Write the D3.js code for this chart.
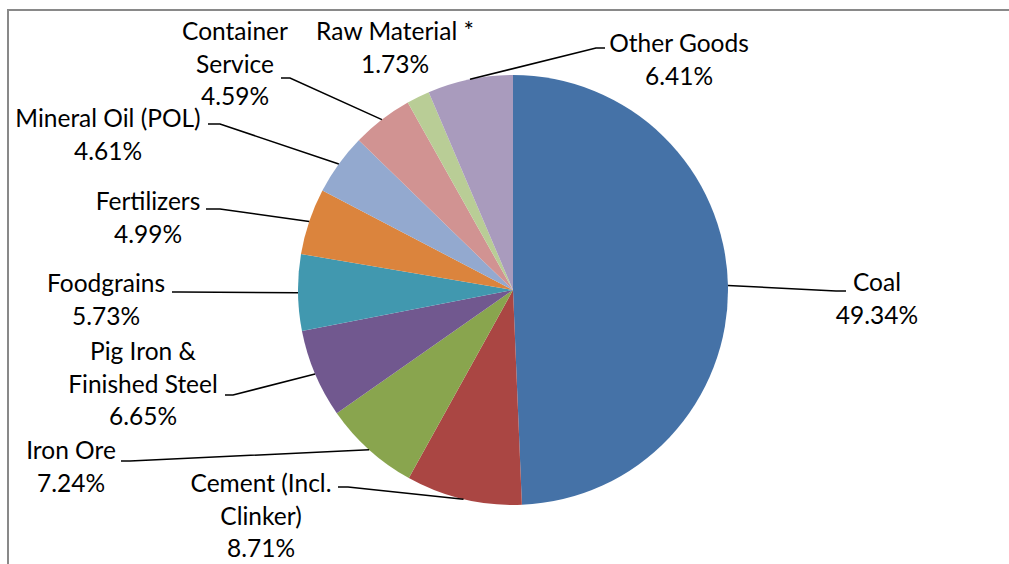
<!DOCTYPE html>
<html>
<head>
<meta charset="utf-8">
<script src="https://cdn.jsdelivr.net/npm/d3@7"></script>
<style>
  body { margin: 0; background: #fff; }
  svg { display: block; }
  .label { font-family: Lato, "Open Sans", sans-serif; font-size: 24.5px; fill: #000; }
  .leader { fill: none; stroke: #000; stroke-width: 1.5; }
</style>
</head>
<body>
<svg></svg>
<script>
// data, in Excel drawing order (clockwise from 12 o'clock)
var categories = ["Coal", "Cement (Incl.\nClinker)", "Iron Ore", "Pig Iron &\nFinished Steel",
  "Foodgrains", "Fertilizers", "Mineral Oil (POL)", "Container\nService", "Raw Material *", "Other Goods"];
var shares = [49.34, 8.71, 7.24, 6.65, 5.73, 4.99, 4.61, 4.59, 1.73, 6.41];
var colors = ["#4572A7", "#AA4643", "#89A54E", "#71588F", "#4198AF",
  "#DB843D", "#93A9CF", "#D19392", "#B9CD96", "#A99BBD"];

// where Excel put each label: centre x, first baseline y, leader elbow and end
var labelPos = [
  {x: 877, y: 291, elbow: [836, 291], end: [846, 291]},
  {x: 261, y: 492, elbow: [348, 487], end: [338, 487]},
  {x: 71,  y: 459, elbow: [130, 461], end: [121, 461]},
  {x: 143, y: 360, elbow: [233, 395], end: [225, 395]},
  {x: 106, y: 292, elbow: [180, 292], end: [172, 292]},
  {x: 148, y: 210, elbow: [220, 209], end: [206, 209]},
  {x: 108, y: 127, elbow: [220, 124], end: [208, 124]},
  {x: 235, y: 40,  elbow: [290, 78],  end: [281, 78]},
  {x: 395, y: 40,  elbow: null,       end: null},
  {x: 679, y: 52,  elbow: [596, 48],  end: [605, 48]}
];

var config = { w: 1009, h: 564, cx: 513, cy: 290, r: 215, lineH: 32.5 };

var svg = d3.select("svg")
  .attr("width", config.w)
  .attr("height", config.h);

// chart frame, runs past the right and bottom edges
svg.append("rect")
  .attr("x", 8)
  .attr("y", 10)
  .attr("width", 1100)
  .attr("height", 700)
  .attr("fill", "#fff")
  .attr("stroke", "#898989")
  .attr("stroke-width", 2);

var pie = d3.pie().sort(null).value(function(d) { return d; });
var arcs = pie(shares);

var arc = d3.arc().innerRadius(0).outerRadius(config.r);
var edge = d3.arc().innerRadius(config.r).outerRadius(config.r);

var g = svg.append("g")
  .attr("transform", "translate(" + config.cx + "," + config.cy + ")");

g.selectAll("path.slice")
  .data(arcs)
  .enter()
  .append("path")
  .attr("class", "slice")
  .attr("d", arc)
  .attr("fill", function(d, i) { return colors[i]; });

// leader lines: from slice edge midpoint to the label
var line = d3.line();
svg.selectAll("path.leader")
  .data(arcs.filter(function(d, i) { return labelPos[i].elbow; }))
  .enter()
  .append("path")
  .attr("class", "leader")
  .attr("d", function(d) {
    var p = labelPos[d.index];
    var c = edge.centroid(d);
    return line([[c[0] + config.cx, c[1] + config.cy], p.elbow, p.end]);
  });

var labels = svg.selectAll("text.label")
  .data(arcs)
  .enter()
  .append("text")
  .attr("class", "label")
  .attr("text-anchor", "middle")
  .attr("x", function(d) { return labelPos[d.index].x; })
  .attr("y", function(d) { return labelPos[d.index].y; });

labels.each(function(d, i) {
  var rows = categories[i].split("\n").concat([shares[i].toFixed(2) + "%"]);
  var t = d3.select(this);
  rows.forEach(function(s, j) {
    t.append("tspan")
      .attr("x", labelPos[i].x)
      .attr("dy", j === 0 ? 0 : config.lineH)
      .text(s);
  });
});
</script>
</body>
</html>
